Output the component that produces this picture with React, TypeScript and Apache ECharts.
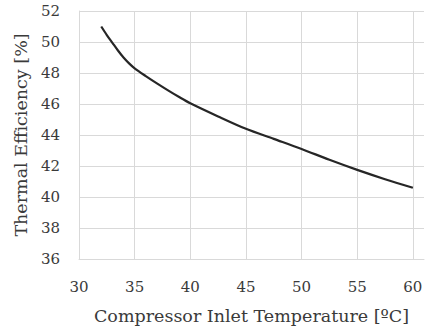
import React, { useEffect, useRef } from "react";
import * as echarts from "echarts";

const inletTemperature = [32, 32.5, 33, 33.5, 34, 34.5, 35, 36, 37, 38, 39, 40, 42.5, 45, 47.5, 50, 52.5, 55, 57.5, 60];
const thermalEfficiency = [51.0, 50.45, 49.95, 49.45, 49.0, 48.62, 48.3, 47.8, 47.33, 46.88, 46.45, 46.05, 45.2, 44.4, 43.75, 43.1, 42.4, 41.75, 41.15, 40.6];
const xTicks = [30, 35, 40, 45, 50, 55, 60];
const yTicks = [36, 38, 40, 42, 44, 46, 48, 50, 52];

const FONT = "DejaVu Serif";
const GRID = "#d9d9d9";
const TEXT = "#3a3a3a";

export default function App() {
  const ref = useRef<HTMLDivElement>(null);
  useEffect(() => {
    if (!ref.current) return;
    const chart = echarts.init(ref.current, undefined, { renderer: "svg" });
    const splitColors = xTicks.map(() => GRID).concat(["rgba(0,0,0,0)"]);
    chart.setOption({
      animation: false,
      backgroundColor: "#ffffff",
      grid: { left: 79, right: 3, top: 11, bottom: 73, containLabel: false },
      xAxis: {
        type: "value",
        min: xTicks[0],
        max: 61,
        interval: 5,
        name: "Compressor Inlet Temperature [ºC]",
        nameLocation: "middle",
        nameGap: 48,
        nameTextStyle: { fontFamily: FONT, fontSize: 17.5, color: TEXT },
        axisLine: { show: true, lineStyle: { color: GRID, width: 1 } },
        axisTick: { show: false },
        axisLabel: {
          fontFamily: FONT,
          fontSize: 15,
          color: TEXT,
          margin: 20,
          showMaxLabel: false,
          formatter: (v: number) => (xTicks.includes(v) ? String(v) : ""),
        },
        splitLine: { show: true, lineStyle: { color: splitColors, width: 1 } },
      },
      yAxis: {
        type: "value",
        min: yTicks[0],
        max: yTicks[yTicks.length - 1],
        interval: 2,
        name: "Thermal Efficiency [%]",
        nameLocation: "middle",
        nameGap: 43,
        nameTextStyle: { fontFamily: FONT, fontSize: 17.5, color: TEXT },
        axisLine: { show: true, lineStyle: { color: GRID, width: 1 } },
        axisTick: { show: false },
        axisLabel: { fontFamily: FONT, fontSize: 15, color: TEXT, margin: 19 },
        splitLine: { show: true, lineStyle: { color: GRID, width: 1 } },
      },
      series: [
        {
          type: "line",
          data: inletTemperature.map((x, i) => [x, thermalEfficiency[i]]),
          smooth: 0.3,
          symbol: "none",
          lineStyle: { color: "#262626", width: 2.2 },
        },
      ],
    });
    return () => chart.dispose();
  }, []);
  return (
    <div
      ref={ref}
      style={{ position: "fixed", left: 0, top: 0, width: 427, height: 332 }}
    />
  );
}
